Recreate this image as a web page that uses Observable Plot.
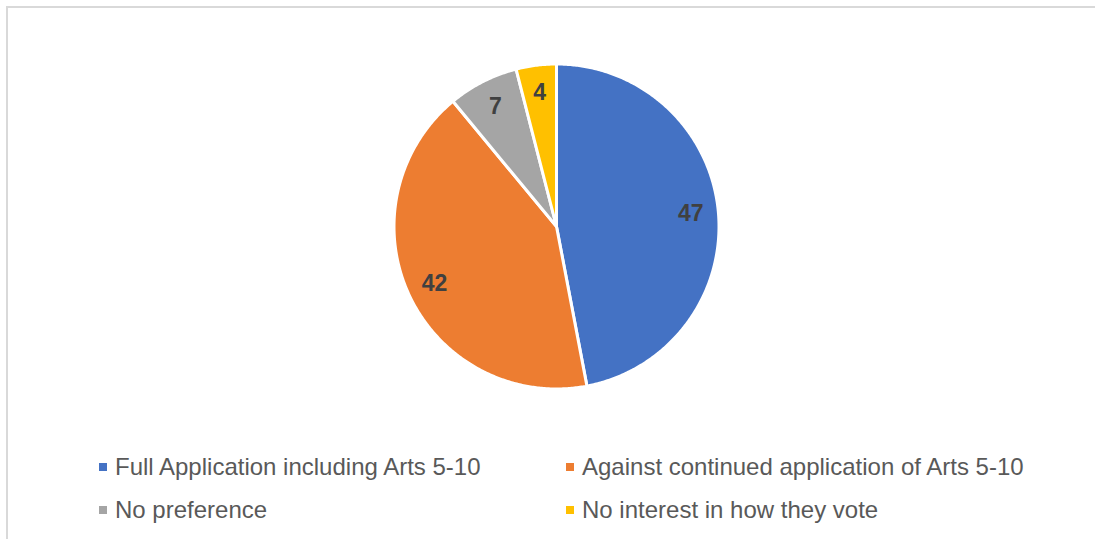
<!DOCTYPE html>
<html><head><meta charset="utf-8">
<script src="https://cdn.jsdelivr.net/npm/d3@7"></script>
<script src="https://cdn.jsdelivr.net/npm/@observablehq/plot@0.6"></script>
<style>
html,body{margin:0;padding:0;background:#fff;overflow:hidden;width:1095px;height:539px;}
#frame{position:absolute;left:6px;top:6px;width:1200px;height:600px;border-top:2px solid #d9d9d9;border-left:2px solid #d9d9d9;}
#chart{position:absolute;left:0;top:0;}
#legend{position:absolute;left:0;top:430px;width:1095px;height:109px;font-family:"Liberation Sans",Arial,sans-serif;font-size:24px;color:#595959;}
.item{position:absolute;display:flex;align-items:center;height:43px;white-space:nowrap;}
.sw{width:8px;height:8px;margin-right:8px;flex:none;}
</style></head><body>
<div id="frame"></div><div id="chart"></div><div id="legend"></div>
<script>
const categories = ["Full Application including Arts 5-10", "Against continued application of Arts 5-10", "No preference", "No interest in how they vote"];
const values = [47, 42, 7, 4];
const palette = ["#4472C4", "#ED7D31", "#A5A5A5", "#FFC000"];

const arcs = d3.pie().sort(null).value(d => d)(values);

// slice outlines (unit circle geometry derived from the pie angles)
const slicePts = [];
arcs.forEach((a, i) => {
  const cat = categories[i];
  slicePts.push({cat, x: 0, y: 0});
  const n = Math.max(2, Math.ceil((a.endAngle - a.startAngle) / (Math.PI / 360)));
  for (let k = 0; k <= n; k++) {
    const t = a.startAngle + (a.endAngle - a.startAngle) * k / n;
    slicePts.push({cat, x: Math.sin(t), y: Math.cos(t)});
  }
});

const labelR = 0.83;
const labels = arcs.map((a, i) => {
  const m = (a.startAngle + a.endAngle) / 2;
  return {text: String(values[i]), x: labelR * Math.sin(m), y: labelR * Math.cos(m)};
});

const chart = Plot.plot({
  width: 1095,
  height: 430,
  marginLeft: 393.5,
  marginRight: 376.5,
  marginTop: 63.5,
  marginBottom: 41.5,
  x: {domain: [-1, 1], axis: null},
  y: {domain: [-1, 1], axis: null},
  color: {domain: categories, range: palette},
  style: {background: "transparent", fontFamily: "'Liberation Sans', Arial, sans-serif"},
  marks: [
    Plot.line(slicePts, {x: "x", y: "y", z: "cat", fill: "cat", stroke: "white", strokeWidth: 3, curve: "linear-closed", strokeLinejoin: "round"}),
    Plot.text(labels, {x: "x", y: "y", text: "text", fontSize: 23, fontWeight: "bold", fill: "#404040"})
  ]
});
document.getElementById("chart").appendChild(chart);

const legend = document.getElementById("legend");
const colLeft = [99, 566];
categories.forEach((c, i) => {
  const it = document.createElement("div");
  it.className = "item";
  it.style.left = colLeft[i % 2] + "px";
  it.style.top = (15.5 + Math.floor(i / 2) * 43) + "px";
  const sw = document.createElement("span");
  sw.className = "sw";
  sw.style.background = palette[i];
  const tx = document.createElement("span");
  tx.textContent = c;
  it.appendChild(sw); it.appendChild(tx);
  legend.appendChild(it);
});
</script></body></html>
